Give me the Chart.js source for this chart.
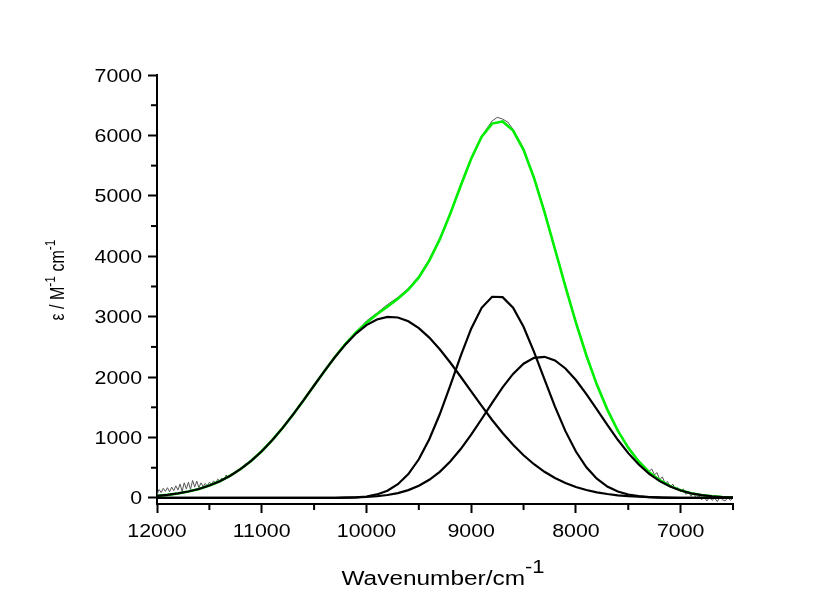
<!DOCTYPE html>
<html>
<head>
<meta charset="utf-8">
<script src="https://cdn.jsdelivr.net/npm/chart.js@4.4.1/dist/chart.umd.min.js"></script>
<style>
  html, body { margin: 0; padding: 0; background: #fff; }
</style>
</head>
<body>
<canvas id="chart" width="836" height="599"></canvas>
<script>
// wavenumber grid of the fitted curves (cm-1)
const wavenumbers = [12000, 11900, 11800, 11700, 11600, 11500, 11400, 11300, 11200, 11100,
  11000, 10900, 10800, 10700, 10600, 10500, 10400, 10300, 10200, 10100,
  10000, 9900, 9800, 9700, 9600, 9500, 9400, 9300, 9200, 9100,
  9000, 8900, 8800, 8700, 8600, 8500, 8400, 8300, 8200, 8100,
  8000, 7900, 7800, 7700, 7600, 7500, 7400, 7300, 7200, 7100,
  7000, 6900, 6800, 6700, 6600, 6500];

// fitted band components
const band1 = [35, 51, 75, 107, 149, 205, 277, 368, 480, 615,
  773, 956, 1160, 1382, 1618, 1861, 2102, 2333, 2542, 2721,
  2861, 2955, 2998, 2987, 2923, 2810, 2654, 2461, 2242, 2006,
  1764, 1523, 1291, 1076, 880, 707, 558, 433, 330, 247,
  181, 131, 93, 65, 44, 30, 20, 13, 8, 5,
  3, 2, 1, 1, 0, 0];
const band2 = [0, 0, 0, 0, 0, 0, 0, 0, 0, 0,
  0, 0, 0, 0, 0, 0, 0, 1, 4, 10,
  24, 58, 120, 228, 395, 640, 972, 1385, 1859, 2351,
  2802, 3147, 3330, 3324, 3148, 2832, 2419, 1963, 1512, 1106,
  769, 507, 318, 189, 107, 57, 29, 14, 6, 3,
  1, 0, 0, 0, 0, 0];
const band3 = [0, 0, 0, 0, 0, 0, 0, 0, 0, 0,
  0, 0, 0, 0, 0, 1, 1, 2, 4, 9,
  16, 28, 49, 81, 130, 201, 301, 433, 603, 809,
  1047, 1307, 1575, 1831, 2053, 2222, 2319, 2336, 2275, 2143,
  1951, 1720, 1465, 1208, 963, 742, 554, 399, 279, 188,
  123, 77, 47, 28, 16, 9];
// cumulative fit
const fitSum = [35, 51, 75, 107, 149, 205, 277, 368, 480, 615,
  773, 956, 1160, 1382, 1618, 1862, 2103, 2336, 2550, 2740,
  2901, 3041, 3167, 3296, 3448, 3651, 3927, 4279, 4704, 5166,
  5613, 5977, 6196, 6231, 6081, 5761, 5296, 4732, 4117, 3496,
  2901, 2358, 1876, 1462, 1114, 829, 603, 426, 293, 196,
  127, 79, 48, 29, 16, 9];

// measured spectrum (noisy trace)
const measuredX = [12000, 11980, 11960, 11940, 11920, 11900, 11880, 11860, 11840, 11820,
  11800, 11780, 11760, 11740, 11720, 11700, 11680, 11660, 11640, 11620,
  11600, 11580, 11560, 11540, 11520, 11500, 11480, 11460, 11440, 11420,
  11400, 11380, 11360, 11340, 11320, 11300, 11280, 11260, 11240, 11220,
  11200, 11180, 11160, 11140, 11120, 11100, 11080, 11060, 11040, 11020,
  11000, 10900, 10800, 10700, 10600, 10500, 10400, 10300, 10200, 10100,
  10000, 9900, 9800, 9700, 9600, 9500, 9400, 9300, 9200, 9100,
  9000, 8900, 8800, 8750, 8700, 8650, 8600, 8500, 8400, 8300,
  8200, 8100, 8000, 7900, 7800, 7700, 7600, 7500, 7400, 7300,
  7275, 7250, 7225, 7200, 7175, 7150, 7125, 7100, 7075, 7050,
  7025, 7000, 6975, 6950, 6925, 6900, 6875, 6850, 6825, 6800,
  6775, 6750, 6725, 6700, 6675, 6650, 6625, 6600, 6575, 6550,
  6525, 6500];
const measuredY = [60, 140, 90, 160, 110, 170, 100, 180, 120, 200,
  130, 230, 110, 250, 150, 260, 140, 290, 180, 280,
  170, 250, 190, 240, 200, 260, 230, 280, 250, 310,
  280, 330, 300, 380, 330, 390, 400, 420, 450, 470,
  500, 510, 560, 570, 610, 620, 670, 680, 720, 740,
  780, 970, 1150, 1390, 1630, 1850, 2110, 2330, 2570, 2740,
  2930, 3060, 3200, 3320, 3470, 3670, 3950, 4300, 4690, 5190,
  5630, 5990, 6240, 6300, 6270, 6220, 6100, 5790, 5310, 4760,
  4100, 3520, 2920, 2380, 1860, 1480, 1100, 850, 620, 440,
  480, 380, 420, 300, 350, 250, 270, 180, 230, 140,
  170, 110, 150, 60, 100, 30, 80, -10, 40, -30,
  20, -50, 10, -40, 0, -60, 10, -30, -50, 10,
  -40, 0];

// axis ticks (labels only on the thousands)
const xTicks = [6500, 7000, 7500, 8000, 8500, 9000, 9500, 10000, 10500, 11000, 11500, 12000];
const yTicks = [0, 500, 1000, 1500, 2000, 2500, 3000, 3500, 4000, 4500, 5000, 5500, 6000, 6500, 7000];

const FONT = "Arial, 'Liberation Sans', sans-serif";
const STRETCH = 1.22; // the original text is a little wide

const pts = (xs, ys) => xs.map((x, i) => ({ x: x, y: ys[i] }));
const isMajor = v => v % 1000 === 0;

// draw text stretched horizontally around its anchor
function wideText(ctx, text, x, y, align, size) {
  ctx.save();
  ctx.translate(x, y);
  ctx.scale(STRETCH, 1);
  ctx.font = size + 'px ' + FONT;
  ctx.textAlign = align;
  ctx.textBaseline = 'alphabetic';
  ctx.fillText(text, 0, 0);
  ctx.restore();
}

// minor ticks and tick labels, placed through the scales
const axisDecor = {
  id: 'axisDecor',
  afterDraw(chart) {
    const ctx = chart.ctx;
    const xs = chart.scales.x, ys = chart.scales.y;
    ctx.save();
    ctx.strokeStyle = '#000';
    ctx.fillStyle = '#000';
    ctx.lineWidth = 2;
    xTicks.forEach(v => {
      const px = xs.getPixelForValue(v);
      if (isMajor(v)) {
        wideText(ctx, String(v), px, xs.top + 33, 'center', 17.5);
      } else {
        ctx.beginPath();
        ctx.moveTo(px, xs.top);
        ctx.lineTo(px, xs.top + 6);
        ctx.stroke();
      }
    });
    yTicks.forEach(v => {
      const py = ys.getPixelForValue(v);
      if (isMajor(v)) {
        wideText(ctx, String(v), ys.right - 15, py + 6.5, 'right', 17.5);
      } else {
        ctx.beginPath();
        ctx.moveTo(ys.right, py);
        ctx.lineTo(ys.right - 6, py);
        ctx.stroke();
      }
    });
    ctx.restore();
  }
};

// axis titles with superscripts
function drawRich(ctx, parts, size, supSize, supRise) {
  const widths = parts.map(p => {
    ctx.font = (p.sup ? supSize : size) + 'px ' + FONT;
    return ctx.measureText(p.t).width;
  });
  const total = widths.reduce((a, b) => a + b, 0);
  let x = -total / 2;
  parts.forEach((p, i) => {
    ctx.font = (p.sup ? supSize : size) + 'px ' + FONT;
    ctx.fillText(p.t, x, p.sup ? -supRise : 0);
    x += widths[i];
  });
}

const axisTitles = {
  id: 'axisTitles',
  afterDraw(chart) {
    const ctx = chart.ctx;
    const area = chart.chartArea;
    ctx.save();
    ctx.fillStyle = '#000';
    ctx.textBaseline = 'alphabetic';
    ctx.textAlign = 'left';
    ctx.save();
    ctx.translate(443, 585);
    ctx.scale(STRETCH, 1);
    drawRich(ctx, [{ t: 'Wavenumber/cm' }, { t: '-1', sup: true }], 20, 18, 12);
    ctx.restore();
    ctx.save();
    ctx.translate(64, 280);
    ctx.scale(STRETCH, 1);
    ctx.rotate(-Math.PI / 2);
    drawRich(ctx, [{ t: 'ε / M' }, { t: '-1', sup: true }, { t: ' cm' }, { t: '-1', sup: true }], 16, 12, 7);
    ctx.restore();
    ctx.restore();
  }
};

const blackLine = data => ({
  data: data, borderColor: '#000', borderWidth: 2.2, pointRadius: 0, tension: 0, order: 0
});

new Chart(document.getElementById('chart'), {
  type: 'line',
  data: {
    datasets: [
      blackLine(pts(wavenumbers, band1)),
      blackLine(pts(wavenumbers, band2)),
      blackLine(pts(wavenumbers, band3)),
      { data: pts(wavenumbers, fitSum), borderColor: '#00ee00', borderWidth: 2.6, pointRadius: 0, tension: 0, order: 1 },
      { data: pts(measuredX, measuredY), borderColor: '#555', borderWidth: 1, pointRadius: 0, tension: 0, order: 2 }
    ]
  },
  options: {
    responsive: false,
    animation: false,
    devicePixelRatio: 1,
    layout: { padding: { top: 75, right: 103, left: 0, bottom: 0 } },
    plugins: { legend: { display: false }, tooltip: { enabled: false } },
    scales: {
      x: {
        type: 'linear',
        reverse: true,
        min: 6500,
        max: 12000,
        afterBuildTicks: s => { s.ticks = xTicks.map(v => ({ value: v })); },
        afterFit: s => { s.height = 95; },
        ticks: { display: false },
        grid: {
          drawOnChartArea: false, tickLength: 9, tickWidth: 2,
          tickColor: c => isMajor(c.tick.value) ? '#000' : 'rgba(0,0,0,0)'
        },
        border: { color: '#000', width: 2 }
      },
      y: {
        type: 'linear',
        min: -100,
        max: 7000,
        afterBuildTicks: s => { s.ticks = yTicks.map(v => ({ value: v })); },
        afterFit: s => { s.width = 157; },
        ticks: { display: false },
        grid: {
          drawOnChartArea: false, tickLength: 9, tickWidth: 2,
          tickColor: c => isMajor(c.tick.value) ? '#000' : 'rgba(0,0,0,0)'
        },
        border: { color: '#000', width: 2 }
      }
    }
  },
  plugins: [axisDecor, axisTitles]
});
</script>
</body>
</html>
